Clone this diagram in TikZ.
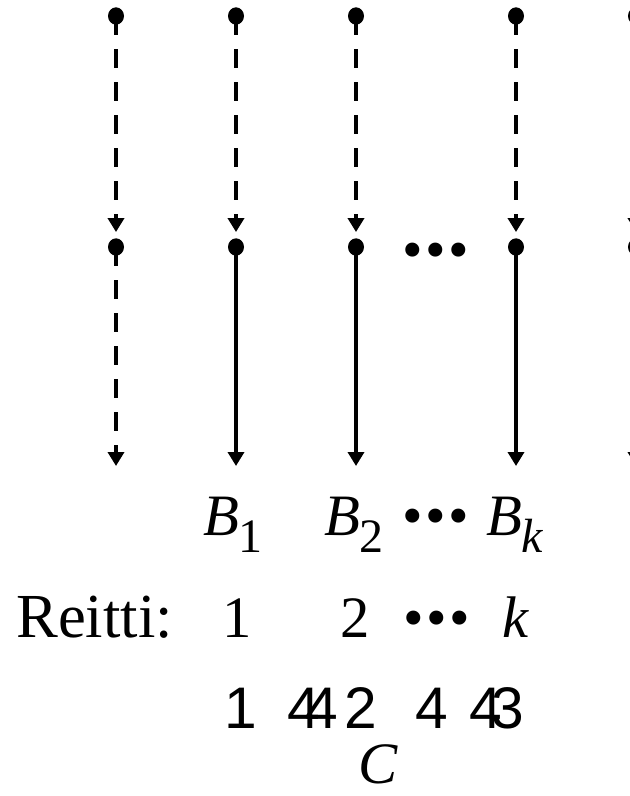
\documentclass[tikz,border=0pt]{standalone}
\usepackage{fontspec}
\setmainfont{Liberation Serif}
\newfontfamily\bracefont{Liberation Sans}
\usetikzlibrary{arrows.meta,shapes.geometric}
\newcommand{\Bsub}[1]{\textit{B}\raisebox{-0.3em}{\fontsize{36}{36}\selectfont #1}}

\begin{document}
\begin{tikzpicture}[x=0.75pt,y=-0.75pt,>={Triangle[length=10.5pt,width=12pt]},
  every node/.style={inner sep=0pt,font=\fontsize{44}{44}\selectfont},
  bead/.style={ellipse,fill,minimum width=12pt,minimum height=13pt},
  flow/.style={line width=3pt,->,shorten >=4.5pt},
  broken/.style={flow,dash pattern=on 14.25pt off 10.5pt}]
  \useasboundingbox (0,0) rectangle (630,796);
  \clip (0,0) rectangle (630,796);
  % columns: top bead, middle bead, free end
  \foreach \i/\x in {1/116,2/236,3/356,4/516,5/636} {
    \node[bead] (t\i) at (\x,16) {};
    \node[bead] (m\i) at (\x,247) {};
    \coordinate (e\i) at (\x,466);
    \draw[broken] (t\i.center) -- (m\i.north);
  }
  \draw[broken,shorten >=0pt] (m1.center) -- (e1);
  \foreach \i in {2,...,5}
    \draw[flow,shorten >=0pt] (m\i.center) -- (e\i);
  \node[anchor=base] (mdots) at (436,269) {•\kern2pt•\kern2pt•};
  % labels of the routes
  \node[anchor=base] (b1) at (233,535) {\Bsub{1}};
  \node[anchor=base] (b2) at (354,535) {\Bsub{2}};
  \node[anchor=base] (bdots) at (436,535) {•\kern2pt•\kern2pt•};
  \node[anchor=base] (bk) at (515,535) {\Bsub{\textit{k}}};
  \node[anchor=base west,font=\fontsize{47}{47}\selectfont] (reitti) at (16,637) {Reitti:};
  \node[anchor=base] (r1) at (237,637) {1};
  \node[anchor=base] (r2) at (355,637) {2};
  \node[anchor=base] (rdots) at (437,637) {•\kern2pt•\kern2pt•};
  \node[anchor=base] (rk) at (516,637) {\textit{k}};
  % the brace, as it was printed
  \foreach \g/\x [count=\j] in {1/241,4/304,4/322,2/361,4/432,4/486,3/508}
    \node[anchor=base,font=\fontsize{44}{44}\bracefont] (g\j) at (\x,728) {\g};
  \node[anchor=base] (c) at (378,783) {\textit{C}};
\end{tikzpicture}
\end{document}
